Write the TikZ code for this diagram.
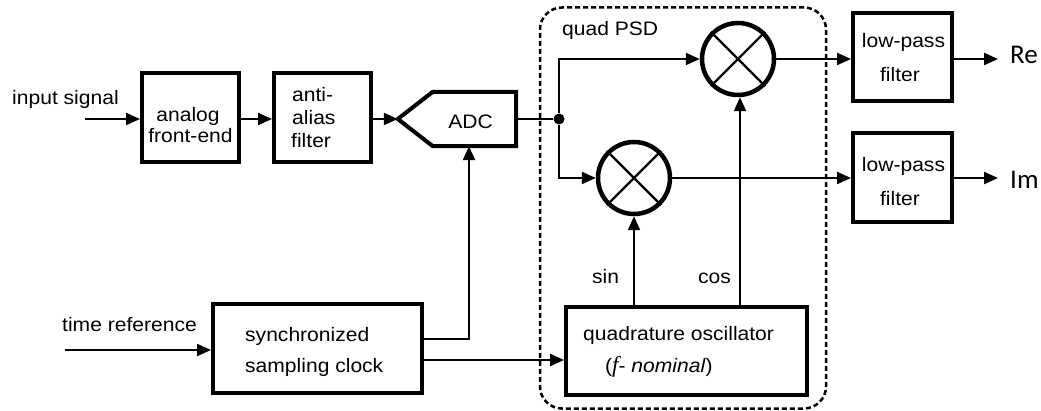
\documentclass[tikz,border=0pt]{standalone}
\usepackage{fontspec}
\setmainfont{Liberation Sans}[FakeStretch=1.08]
\newfontfamily\outfont{Carlito}
\newfontfamily\freqfont{Liberation Serif}
\usetikzlibrary{arrows.meta}
\begin{document}
\begin{tikzpicture}[x=1pt,y=-1pt,
  every node/.style={font=\fontsize{19.5}{22}\selectfont, inner sep=0pt},
  blk/.style={draw, line width=4pt, rectangle},
  wire/.style={line width=2.2pt},
  arr/.style={wire, -{Triangle[length=14pt,width=12pt]}},
  mixer/.style={draw, circle, line width=4.5pt, minimum size=72pt},
  junction/.style={circle, fill, minimum size=11pt},
  psdbox/.style={draw, line width=2.5pt, dash pattern=on 5pt off 3pt, rounded corners=22pt},
  lbl/.style={anchor=base west},
  clbl/.style={anchor=base},
  outlbl/.style={anchor=base west, font=\outfont\fontsize{27}{30}\selectfont}]
\useasboundingbox (0,0) rectangle (1041,411);

% quadrature phase-sensitive detector region
\node[psdbox, minimum width=286pt, minimum height=401pt] (psd) at (683,208) {};
\node[lbl] (psdlbl) at (562,36) {quad PSD};

% signal chain blocks
\node[blk, minimum width=97pt, minimum height=89pt] (afe) at (190.5,118) {};
\node[clbl] (afe1) at (188,121.7) {analog};
\node[clbl] (afe2) at (190.5,142.7) {front-end};

\node[blk, minimum width=97pt, minimum height=89pt] (aaf) at (322.5,118) {};
\node[lbl] (aaf1) at (292,102) {anti-};
\node[lbl] (aaf2) at (292,124.5) {alias};
\node[lbl] (aaf3) at (291,147.5) {filter};

% ADC: pentagon pointing to the left
\node[minimum width=118pt, minimum height=54pt] (adc) at (457,119) {};
\draw[line width=4pt] (adc.west) -- ([xshift=35pt]adc.north west) -- (adc.north east)
  -- (adc.south east) -- ([xshift=35pt]adc.south west) -- cycle;
\node[clbl] (adclbl) at (470.5,128.3) {ADC};

\node[junction] (jn) at (559,119) {};

% mixers
\node[mixer] (mulA) at (738,59) {};
\draw[wire] (mulA.north west) -- (mulA.south east) (mulA.north east) -- (mulA.south west);
\node[mixer] (mulB) at (634,178) {};
\draw[wire] (mulB.north west) -- (mulB.south east) (mulB.north east) -- (mulB.south west);

% output filters
\node[blk, minimum width=99pt, minimum height=88pt] (lpfA) at (902.5,57) {};
\node[clbl] (lpfA1) at (903.5,48) {low-pass};
\node[clbl] (lpfA2) at (900,82) {filter};
\node[blk, minimum width=99pt, minimum height=89pt] (lpfB) at (902.5,177.5) {};
\node[clbl] (lpfB1) at (903.5,172) {low-pass};
\node[clbl] (lpfB2) at (900,206) {filter};

% clock and oscillator
\node[blk, minimum width=209pt, minimum height=89pt] (clk) at (317.5,348.5) {};
\node[lbl] (clk1) at (245,342) {synchronized};
\node[lbl] (clk2) at (245,372.7) {sampling clock};

\node[blk, minimum width=241pt, minimum height=88pt] (osc) at (686.5,351) {};
\node[lbl] (osc1) at (583,340.7) {quadrature oscillator};
\node[lbl] (osc2) at (605,372.7) {({\freqfont\itshape\fontsize{23}{26}\selectfont f}- \textit{nominal})};

% external labels
\node[lbl] (inlbl) at (12,105) {input signal};
\node[lbl] (trlbl) at (62,331.7) {time reference};
\node[lbl] (sinlbl) at (592,284) {sin};
\node[lbl] (coslbl) at (698,284) {cos};
\node[outlbl] (relbl) at (1010,63.3) {Re};
\node[outlbl] (imlbl) at (1010,188.3) {Im};

% free ends of the input and output lines
\coordinate (insrc) at (85,119);
\coordinate (trsrc) at (65,350);
\coordinate (reend) at (998,59);
\coordinate (imend) at (998,178);

% connectors
\draw[arr] (insrc) -- (afe.west |- insrc);
\draw[arr] (afe.east |- insrc) -- (aaf.west |- insrc);
\draw[arr] (aaf.east |- insrc) -- (adc.west);
\draw[wire] (adc.east) -- (jn);
\draw[arr] (jn) |- (mulA.west);
\draw[arr] (jn) |- (mulB.west);
\draw[arr] (mulA.east) -- (mulA.east -| lpfA.west);
\draw[arr] (mulB.east) -- (mulB.east -| lpfB.west);
\draw[arr] (lpfA.east |- reend) -- (reend);
\draw[arr] (lpfB.east |- imend) -- (imend);
\draw[arr] (trsrc) -- (trsrc -| clk.west);
\draw[arr] ([yshift=9.5pt]clk.east) -| ([xshift=12pt]adc.south);
\draw[arr] ([yshift=-11.5pt]clk.east) -- ([yshift=-9pt]osc.west);
\draw[arr] (osc.north -| mulB) -- (mulB.south);
\draw[arr] ([xshift=2pt]osc.north -| mulA) -- ([xshift=2pt]mulA.south);
\end{tikzpicture}
\end{document}
